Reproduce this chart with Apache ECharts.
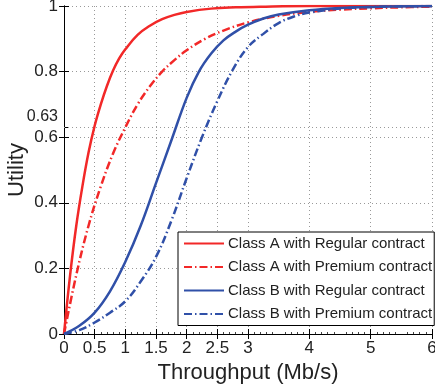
<!DOCTYPE html>
<html>
<head>
<meta charset="utf-8">
<script src="https://cdn.jsdelivr.net/npm/echarts@6/dist/echarts.min.js"></script>
<style>
  html, body { margin: 0; padding: 0; background: #fff; }
  #chart { width: 435px; height: 385px; }
</style>
</head>
<body>
<div id="chart"></div>
<script>
// tick positions
const xTicks = [0, 0.5, 1, 1.5, 2, 2.5, 3, 4, 5, 6];
const yTicks = [0, 0.2, 0.4, 0.6, 0.63, 0.8, 1];
const yGridTicks = [0, 0.2, 0.4, 0.6, 0.8, 1];

const seriesNames = [
  'Class A with Regular contract',
  'Class A with Premium contract',
  'Class B with Regular contract',
  'Class B with Premium contract'
];

// [throughput, utility]
const classARegular = [
  [0, 0], [0.1, 0.18], [0.2, 0.33], [0.3, 0.45], [0.4, 0.553], [0.5, 0.635],
  [0.6, 0.7], [0.7, 0.756], [0.8, 0.803], [0.9, 0.84], [1, 0.868], [1.2, 0.912],
  [1.4, 0.94], [1.6, 0.96], [1.8, 0.973], [2, 0.982], [2.4, 0.992], [2.8, 0.996],
  [3.2, 0.998], [4, 1], [5, 1], [6, 1]
];
const classAPremium = [
  [0, 0], [0.2, 0.18], [0.4, 0.33], [0.6, 0.45], [0.8, 0.55], [1, 0.63],
  [1.2, 0.7], [1.4, 0.755], [1.6, 0.8], [1.8, 0.835], [2, 0.865], [2.3, 0.9],
  [2.6, 0.925], [3, 0.95], [3.5, 0.97], [4, 0.982], [4.5, 0.989], [5, 0.993],
  [5.5, 0.996], [6, 0.998]
];
const classBRegular = [
  [0, 0], [0.25, 0.025], [0.5, 0.065], [0.75, 0.13], [1, 0.22], [1.25, 0.33],
  [1.5, 0.46], [1.75, 0.59], [2, 0.72], [2.2, 0.8], [2.4, 0.855], [2.6, 0.895],
  [2.8, 0.922], [3, 0.943], [3.25, 0.962], [3.5, 0.974], [4, 0.987], [4.5, 0.994],
  [5, 0.997], [6, 1]
];
const classBPremium = [
  [0, 0], [0.25, 0.012], [0.5, 0.035], [0.75, 0.065], [1, 0.1], [1.25, 0.16],
  [1.5, 0.235], [1.75, 0.345], [2, 0.475], [2.25, 0.6], [2.5, 0.71], [2.75, 0.805],
  [3, 0.875], [3.25, 0.915], [3.5, 0.948], [3.75, 0.968], [4, 0.98], [4.5, 0.992],
  [5, 0.997], [6, 1]
];

// short dotted marker at utility 0.63
const markerLevel = 0.63;
const markerEnd = 0.42;

const RED = '#f22828';
const BLUE = '#3050a8';
const DASH_DOT = [8, 3, 1.5, 3];
const FONT = 'Liberation Sans, Arial, Helvetica, sans-serif';

const chart = echarts.init(document.getElementById('chart'));

const boxAxisLine = { show: true, lineStyle: { color: '#000', width: 1 } };
const gridLine = { show: true, lineStyle: { color: '#999', type: [1, 3], width: 1 } };

function makeSeries(name, data, color, dashed) {
  return {
    name: name,
    type: 'line',
    data: data,
    smooth: 0.4,
    showSymbol: false,
    symbol: 'none',
    clip: true,
    lineStyle: { color: color, width: 2.5, type: dashed ? DASH_DOT : 'solid' },
    itemStyle: { color: color },
    z: 3
  };
}

const series = [
  makeSeries(seriesNames[0], classARegular, RED, false),
  makeSeries(seriesNames[1], classAPremium, RED, true),
  makeSeries(seriesNames[2], classBRegular, BLUE, false),
  makeSeries(seriesNames[3], classBPremium, BLUE, true)
];

series[0].markLine = {
  silent: true,
  symbol: 'none',
  label: { show: false },
  lineStyle: { color: '#999', type: [1, 3], width: 1 },
  data: [[{ coord: [0, markerLevel] }, { coord: [markerEnd, markerLevel] }]]
};

chart.setOption({
  animation: false,
  textStyle: { fontFamily: FONT },
  grid: { left: 64, right: 3, top: 6, bottom: 51, containLabel: false, outerBoundsMode: 'none' },
  legend: {
    orient: 'vertical',
    left: 178,
    top: 232,
    data: seriesNames,
    itemWidth: 40,
    itemHeight: 14,
    itemGap: 8.5,
    padding: [4, 2, 4, 5],
    backgroundColor: '#fff',
    borderColor: '#000',
    borderWidth: 1,
    borderRadius: 0,
    itemStyle: { opacity: 0 },
    textStyle: { fontSize: 15, color: '#222', fontFamily: FONT, padding: [0, 0, 0, -1] }
  },
  xAxis: [
    {
      type: 'value',
      position: 'bottom',
      min: 0,
      max: 6,
      interval: 0.5,
      name: 'Throughput (Mb/s)',
      nameLocation: 'middle',
      nameGap: 25,
      nameTextStyle: { fontSize: 22, color: '#222', fontFamily: FONT },
      axisLine: boxAxisLine,
      axisTick: { show: true, inside: true, length: 5, customValues: xTicks, lineStyle: { color: '#000' } },
      minorTick: { show: true, splitNumber: 5, length: 2, lineStyle: { color: '#444' } },
      axisLabel: { show: true, customValues: xTicks, margin: 6, fontSize: 17, color: '#222',
        formatter: v => String(v) },
      splitLine: gridLine
    },
    {
      type: 'value',
      position: 'top',
      min: 0,
      max: 6,
      interval: 0.5,
      axisLine: boxAxisLine,
      axisTick: { show: true, inside: true, length: 5, customValues: xTicks, lineStyle: { color: '#000' } },
      axisLabel: { show: false },
      splitLine: { show: false }
    }
  ],
  yAxis: [
    {
      type: 'value',
      position: 'left',
      min: 0,
      max: 1,
      interval: 0.2,
      name: 'Utility',
      nameLocation: 'middle',
      nameGap: 36,
      nameMoveOverlap: false,
      nameTextStyle: { fontSize: 22, color: '#222', fontFamily: FONT },
      axisLine: boxAxisLine,
      axisTick: { show: true, inside: true, length: 5, customValues: yTicks, lineStyle: { color: '#000' } },
      axisLabel: {
        show: true,
        customValues: yTicks,
        margin: 6,
        fontSize: 17,
        color: '#222',
        formatter: v => (v === markerLevel ? '{s|0.63}\n{s| }' : String(v)),
        rich: { s: { fontSize: 16, lineHeight: 22, color: '#222', fontFamily: FONT } }
      },
      splitLine: gridLine
    },
    {
      type: 'value',
      position: 'right',
      min: 0,
      max: 1,
      interval: 0.2,
      axisLine: boxAxisLine,
      axisTick: { show: true, inside: true, length: 5, customValues: yGridTicks, lineStyle: { color: '#000' } },
      axisLabel: { show: false },
      splitLine: { show: false }
    }
  ],
  series: series
});
</script>
</body>
</html>
